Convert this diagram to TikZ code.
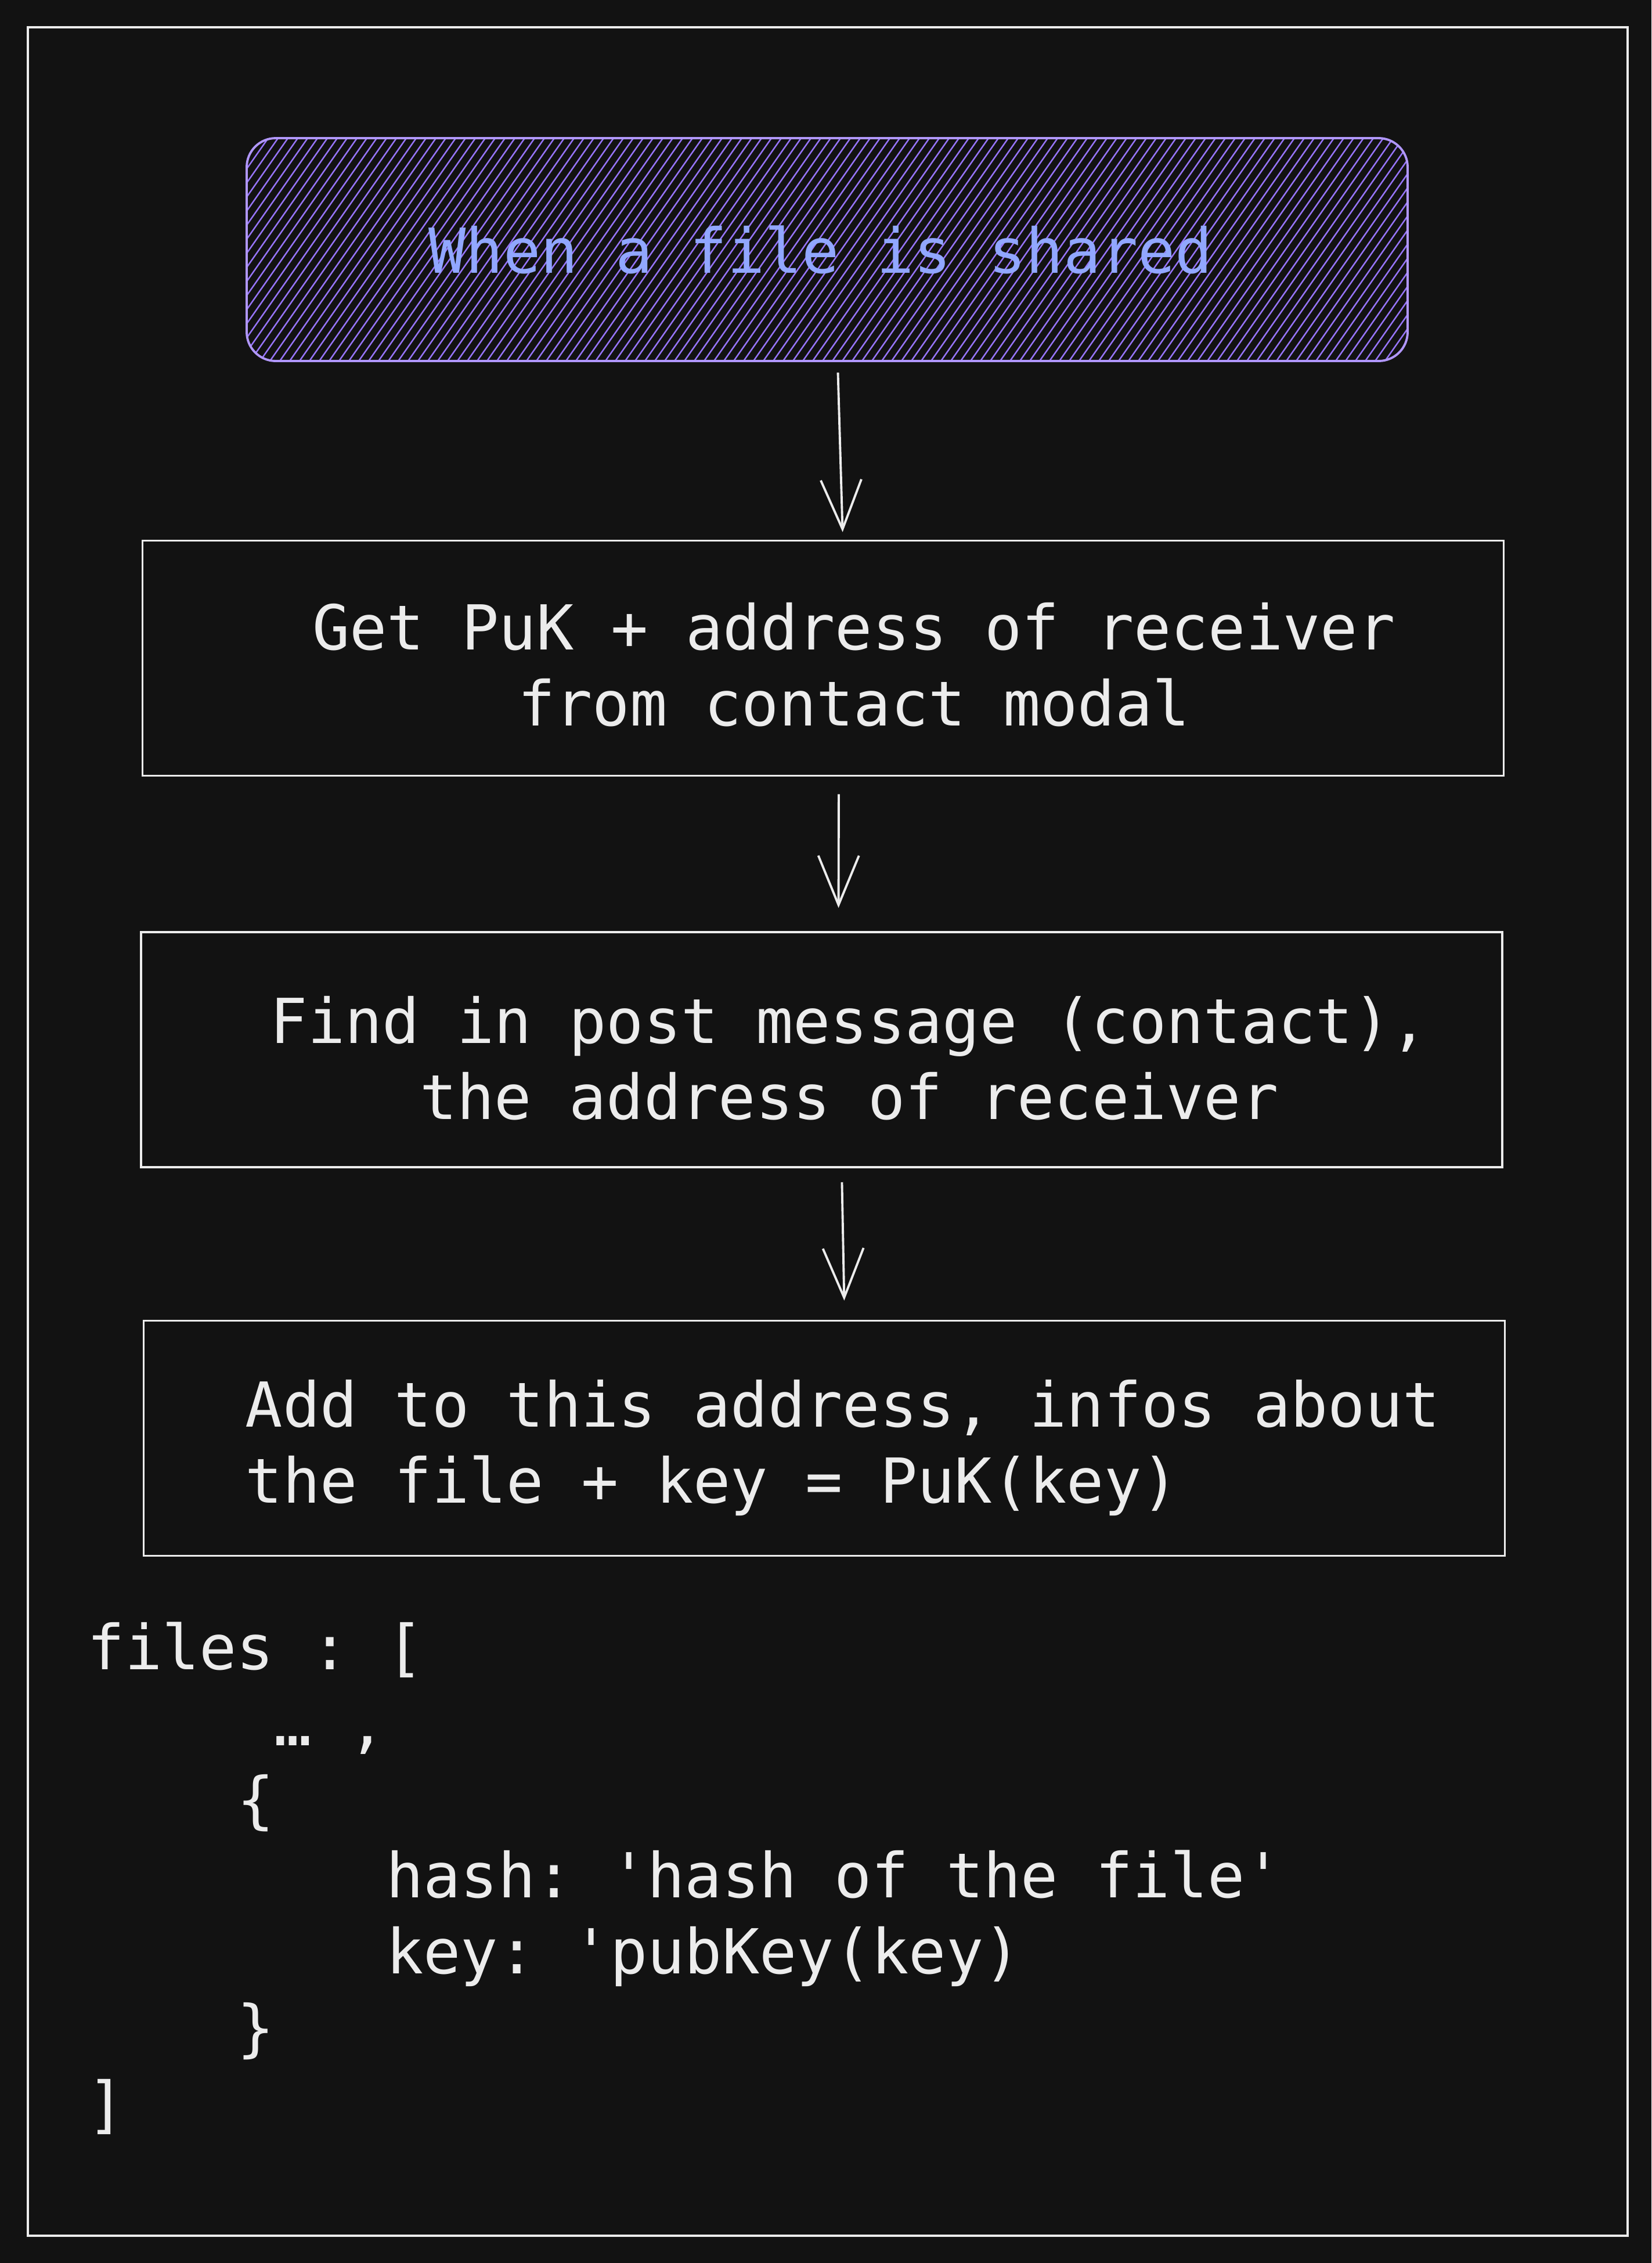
\documentclass[tikz,border=0pt]{standalone}
\usepackage{fontspec}
\setmonofont{DejaVu Sans Mono}
\usetikzlibrary{arrows.meta}
\definecolor{bgcolor}{HTML}{121212}
\definecolor{ink}{HTML}{ECECEC}
\definecolor{violetline}{HTML}{B197FC}
\definecolor{hatchviolet}{HTML}{9775FA}
\definecolor{titleblue}{HTML}{91A7FF}
\newcommand{\codefont}{\ttfamily\fontsize{30.4}{37.3}\selectfont}
\tikzset{
	titlestyle/.style={rectangle,rounded corners=0.5cm,draw=violetline,line width=1.1pt,minimum width=20.0cm,minimum height=3.84cm,text=titleblue,font=\codefont,inner sep=0pt,
		path picture={\foreach \x in {-3.0,-2.83,...,20.3} {\draw[hatchviolet,line width=0.7pt] ([xshift=\x cm]path picture bounding box.south west) -- ++(2.69,3.84);}}},
	boxstyle/.style={rectangle,draw=ink,line width=1pt,minimum width=23.45cm,minimum height=4.05cm},
	textstyle/.style={text=ink,font=\codefont,inner sep=0pt},
	arrowstyle/.style={draw=ink,line width=1.1pt,-{Straight Barb[length=0.85cm,width=0.7cm]}}
}
\begin{document}
\begin{tikzpicture}
		\fill[bgcolor] (0,0) rectangle (28.45,-38.99);
		\useasboundingbox (0,0) rectangle (28.45,-38.99);
		\draw[ink,line width=1.2pt] (0.48,-0.47) rectangle (28.04,-38.52);
		% flow boxes
		\node[titlestyle] (shared) at (14.25,-4.3) {\raisebox{-0.06cm}{When a file is shared}\hspace*{0.22cm}};
		\node[boxstyle] (puk) at (14.18,-11.34) {};
		\node[boxstyle] (find) at (14.155,-18.085) {};
		\node[boxstyle] (add) at (14.2,-24.78) {};
		\node[textstyle,align=center] (puktext) at (14.71,-11.455) {Get PuK + address of receiver\\from contact modal};
		\node[textstyle,align=center] (findtext) at (14.63,-18.23) {Find in post message (contact),\\the address of receiver};
		\node[textstyle,align=left,anchor=west] (addtext) at (4.22,-24.945) {Add to this address, infos about\\the file + key = PuK(key)};
		% json
		\node[textstyle,align=left,anchor=north west] (files) at (1.50,-27.94) {files : [\\
			\phantom{xxxxx}… ,\\
			\phantom{xxxx}\{\\
			\phantom{xxxxxxxx}hash: 'hash of the file'\\
			\phantom{xxxxxxxx}key: 'pubKey(key)\\
			\phantom{xxxx}\}\\
			]};
		\draw[arrowstyle,shorten <=0.18cm,shorten >=0.13cm] ([xshift=0.18cm]shared.south) -- ([xshift=0.34cm]puk.north);
		\draw[arrowstyle,shorten <=0.30cm,shorten >=0.40cm] ([xshift=0.27cm]puk.south) -- ([xshift=0.29cm]find.north);
		\draw[arrowstyle,shorten <=0.24cm,shorten >=0.33cm] ([xshift=0.345cm]find.south) -- ([xshift=0.35cm]add.north);
\end{tikzpicture}
\end{document}
